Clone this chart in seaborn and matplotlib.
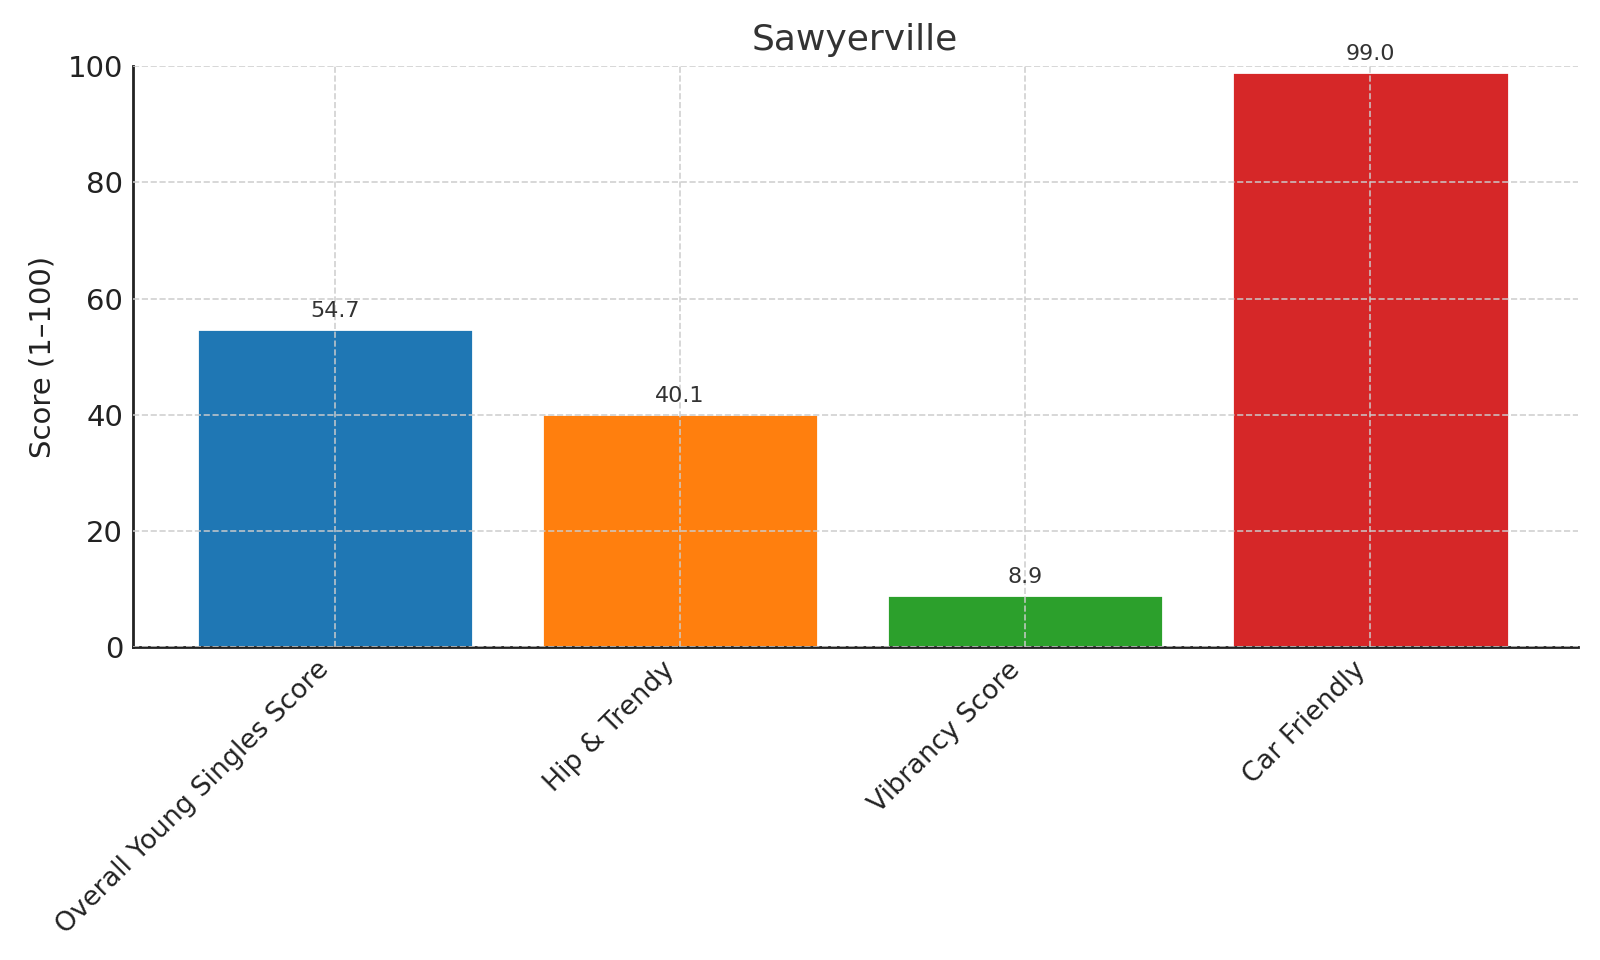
import matplotlib
matplotlib.use("Agg")
import matplotlib.pyplot as plt
import pandas as pd
import seaborn as sns


CITY = "Sawyerville"
CATEGORIES = ["Overall Young Singles Score", "Hip & Trendy", "Vibrancy Score", "Car Friendly"]
SCORES = [54.7, 40.1, 8.9, 99.0]
COLORS = ["#1f77b4", "#ff7f0e", "#2ca02c", "#d62728"]


def main() -> None:
    sns.set_theme(style="white")
    plt.rcParams.update({
        "font.family": ["DejaVu Sans"],
        "xtick.direction": "in",
        "ytick.direction": "in",
        "axes.edgecolor": "#222222",
        "xtick.color": "#222222",
        "ytick.color": "#222222",
    })

    data = pd.DataFrame({"category": CATEGORIES, "score": SCORES})

    fig, ax = plt.subplots(figsize=(8, 4.8), dpi=200)
    sns.barplot(
        data=data,
        x="category",
        y="score",
        hue="category",
        palette=COLORS,
        width=0.8,
        saturation=1.0,
        legend=False,
        ax=ax,
    )
    ax.set_xlim(-0.585, len(CATEGORIES) - 1 + 0.6)
    ax.set_ylim(0, 100)
    ax.set_yticks([0, 20, 40, 60, 80, 100])

    for i, value in enumerate(SCORES):
        ax.annotate(
            f"{value:.1f}",
            xy=(i, value),
            xytext=(0, 3),
            textcoords="offset points",
            ha="center",
            va="bottom",
            fontsize=8,
            color="#333333",
        )

    ax.set_title(CITY, fontsize=13, color="#333333", pad=6)
    ax.set_xlabel("")
    ax.set_ylabel("Score (1–100)", fontsize=10.5, color="#222222")
    ax.tick_params(axis="y", labelsize=10.5, length=4, width=0.8)
    ax.tick_params(axis="x", labelsize=9.7, length=4, width=0.8)
    plt.setp(ax.get_xticklabels(), rotation=45, ha="right")

    ax.set_axisbelow(False)
    ax.grid(True, linestyle="--", linewidth=0.6, color="#cccccc", alpha=0.9)
    sns.despine(ax=ax)
    for side in ("left", "bottom"):
        ax.spines[side].set_linewidth(1.0)
        ax.spines[side].set_color("#222222")

    fig.subplots_adjust(left=0.083, right=0.986, top=0.931, bottom=0.326)
    fig.savefig("out.png", dpi=200)
    plt.close(fig)


if __name__ == "__main__":
    main()
